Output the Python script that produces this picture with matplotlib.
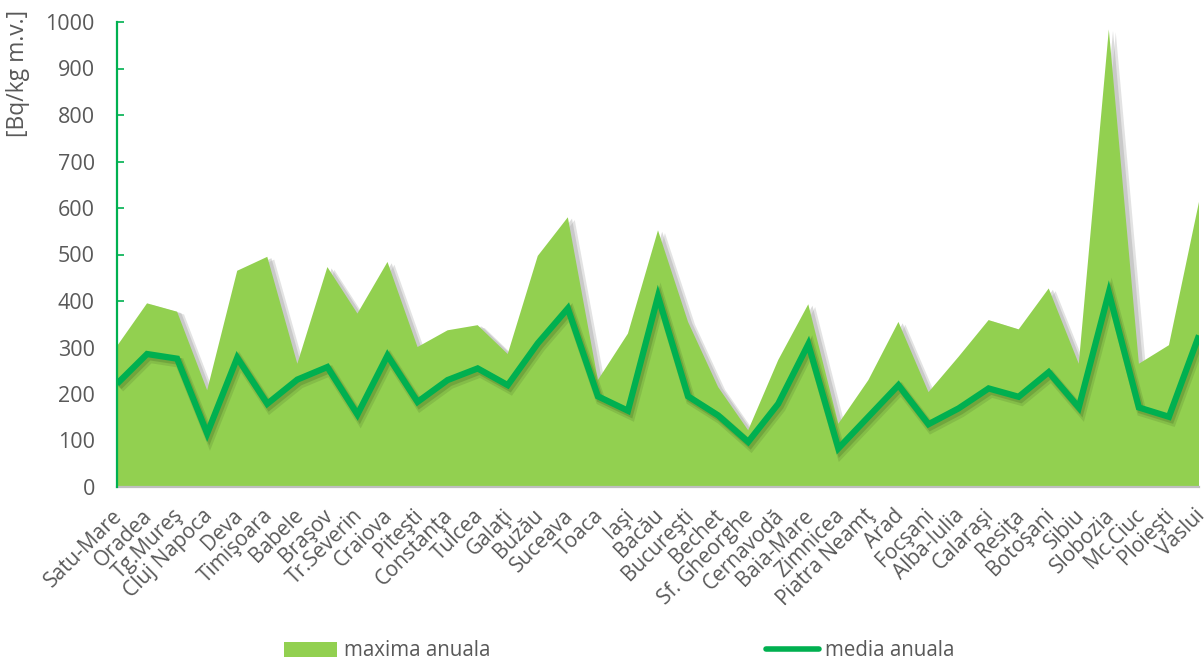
import matplotlib
matplotlib.use("Agg")
import matplotlib.pyplot as plt
import matplotlib.patheffects as pe
from matplotlib.patches import Patch
from matplotlib.lines import Line2D
from matplotlib.transforms import ScaledTranslation
import numpy as np

stations = [
    "Satu-Mare", "Oradea", "Tg.Mureş", "Cluj Napoca", "Deva", "Timişoara", "Babele",
    "Braşov", "Tr.Severin", "Craiova", "Piteşti", "Constanţa", "Tulcea", "Galaţi",
    "Buzău", "Suceava", "Toaca", "Iaşi", "Bacău", "Bucureşti", "Bechet", "Sf. Gheorghe",
    "Cernavodă", "Baia-Mare", "Zimnicea", "Piatra Neamţ", "Arad", "Focşani", "Alba-Iulia",
    "Calaraşi", "Resiţa", "Botoşani", "Sibiu", "Slobozia", "Mc.Ciuc", "Ploieşti", "Vaslui",
]
maxima_anuala = [
    303, 395, 377, 208, 465, 495, 265, 473, 373, 484, 301, 337, 348, 286, 497, 580,
    230, 330, 552, 355, 215, 122, 273, 393, 136, 230, 355, 204, 280, 359, 339, 427,
    265, 984, 265, 305, 613,
]
media_anuala = [
    222, 286, 276, 115, 278, 179, 231, 258, 156, 283, 183, 230, 255, 219, 309, 384,
    195, 164, 410, 195, 154, 97, 179, 307, 83, 151, 219, 135, 169, 212, 194, 247,
    171, 418, 171, 151, 326,
]
y_ticks = list(range(0, 1001, 100))

AREA = "#92D050"
LINE = "#00B050"
TEXT = "#595959"

plt.rcParams["font.family"] = ["Open Sans", "DejaVu Sans"]

fig = plt.figure(figsize=(12.04, 6.62), dpi=100)
ax = fig.add_axes([117 / 1204, 1 - 487 / 662, (1199 - 117) / 1204, (487 - 22) / 662])

x = np.arange(len(stations))
area = ax.fill_between(x, 0, maxima_anuala, color=AREA, linewidth=0, zorder=2)
area.set_path_effects([
    pe.SimplePatchShadow(offset=(5, -2), shadow_rgbFace="#b0b0b0", alpha=0.35),
    pe.SimplePatchShadow(offset=(3, -1), shadow_rgbFace="#9a9a9a", alpha=0.35),
    pe.Normal(),
])
line, = ax.plot(x, media_anuala, color=LINE, linewidth=4.5, solid_joinstyle="miter",
                solid_capstyle="butt", zorder=3)
line.set_path_effects([
    pe.SimpleLineShadow(offset=(2, -3), shadow_color="#1f3a10", alpha=0.12, linewidth=7),
    pe.SimpleLineShadow(offset=(1.5, -2), shadow_color="#1f3a10", alpha=0.18, linewidth=5),
    pe.Normal(),
])

ax.set_xlim(0, len(stations) - 1)
ax.set_ylim(0, 1000)
ax.set_yticks(y_ticks)
ax.set_xticks(x)
ax.set_xticklabels(stations, rotation=45, ha="right", va="top",
                   rotation_mode="anchor", fontsize=15, color=TEXT)
ax.tick_params(axis="x", length=0, pad=13)
ax.tick_params(axis="y", direction="in", length=5, width=1.2, color=LINE,
               labelsize=15.5, labelcolor=TEXT, pad=16)

# nudge the rotated station names slightly to the left
shift = ScaledTranslation(-5 / 100, 0, fig.dpi_scale_trans)
for lbl in ax.get_xticklabels():
    lbl.set_transform(lbl.get_transform() + shift)

for side in ("top", "right"):
    ax.spines[side].set_visible(False)
ax.spines["left"].set_color(LINE)
ax.spines["left"].set_linewidth(1.6)
ax.spines["left"].set_zorder(5)
ax.spines["bottom"].set_color("#bfbfbf")
ax.spines["bottom"].set_linewidth(1.6)

fig.text(18 / 1204, 1 - 10 / 662, "[Bq/kg m.v.]", rotation=90, ha="center", va="top",
         fontsize=16.5, color=TEXT)

leg1 = fig.legend(handles=[Patch(facecolor=AREA, edgecolor="none")], labels=["maxima anuala"],
                  loc="center left", bbox_to_anchor=(284 / 1204, 1 - 651 / 662),
                  frameon=False, fontsize=14.8, handlelength=2.6, handleheight=0.7,
                  handletextpad=0.3, borderaxespad=0, borderpad=0)
for t in leg1.get_texts():
    t.set_color(TEXT)
leg2 = fig.legend(handles=[Line2D([], [], color=LINE, linewidth=4, solid_capstyle="round")],
                  labels=["media anuala"],
                  loc="center left", bbox_to_anchor=(766 / 1204, 1 - 651 / 662),
                  frameon=False, fontsize=14.8, handlelength=2.6,
                  handletextpad=0.25, borderaxespad=0, borderpad=0)
for t in leg2.get_texts():
    t.set_color(TEXT)

fig.savefig("out.png", dpi=100)
